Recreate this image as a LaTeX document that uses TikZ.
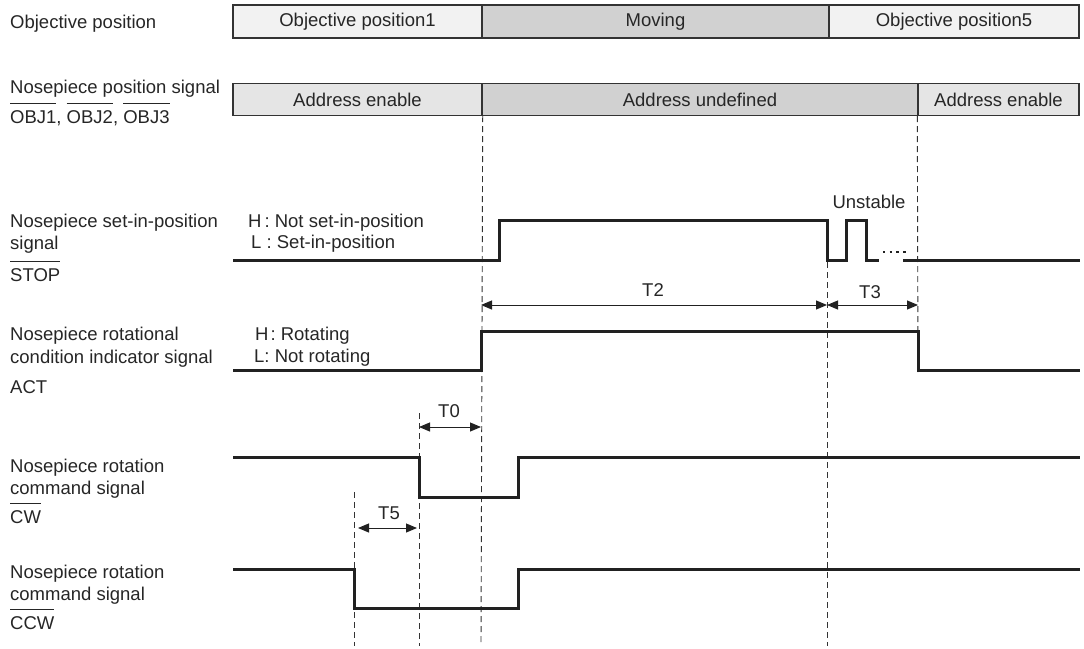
\documentclass[tikz,border=0pt]{standalone}
\usepackage{fontspec}
\setmainfont{Liberation Sans}
\usetikzlibrary{arrows.meta}
% active-low signal name: a bar set well above the capitals
\newcommand\ovl[1]{\setbox0\hbox{#1}\rlap{\rule[19.5pt]{\wd0}{1pt}}\box0}
\begin{document}
\begin{tikzpicture}[x=1pt,y=-1pt,
  txt/.style={font=\fontsize{18.5}{23}\selectfont, text=black!85, inner sep=0pt},
  lbl/.style={txt, anchor=base west},
  band/.style={txt, draw=black!80, line width=1.4pt, minimum height=33pt, inner sep=0pt},
  lightband/.style={band, fill=black!5},
  midband/.style={band, fill=black!10},
  darkband/.style={band, fill=black!18},
  sig/.style={line width=3pt, draw=black!87, line join=miter},
  guide/.style={line width=0.9pt, draw=black!80, dash pattern=on 6pt off 4pt},
  dim/.style={line width=1pt, draw=black!87, {Triangle[length=11pt,width=9pt]}-{Triangle[length=11pt,width=9pt]}}]
\useasboundingbox (0,0) rectangle (1084,648);

% ---- objective position bar
\node[lightband, minimum width=249pt] (op1) at (357.5,21.5) {Objective position1};
\node[darkband, minimum width=347pt] (mov) at (655.5,21.5) {Moving};
\node[lightband, minimum width=250pt] (op5) at (954,21.5) {Objective position5};

% ---- nosepiece position signal bar
\node[midband, minimum width=249pt, minimum height=32pt] (ae1) at (357.5,99.5) {Address enable};
\node[darkband, minimum width=436pt, minimum height=32pt] (au) at (700,99.5) {Address undefined};
\node[midband, minimum width=161pt, minimum height=32pt] (ae2) at (998.5,99.5) {Address enable};

% ---- signal names
\node[lbl] (n0) at (10,28) {Objective position};
\node[lbl] (n1a) at (10,93) {Nosepiece position signal};
\node[lbl] (n1b) at (10,123) {\ovl{OBJ1}, \ovl{OBJ2}, \ovl{OBJ3}};
\node[lbl] (n2a) at (10,227) {Nosepiece set-in-position};
\node[lbl] (n2b) at (10,249) {signal};
\node[lbl] (n2c) at (10,281) {\ovl{STOP}};
\node[lbl] (n3a) at (10,340) {Nosepiece rotational};
\node[lbl] (n3b) at (10,363) {condition indicator signal};
\node[lbl] (n3c) at (10,393) {ACT};
\node[lbl] (n4a) at (10,472) {Nosepiece rotation};
\node[lbl] (n4b) at (10,494) {command signal};
\node[lbl] (n4c) at (10,523) {\ovl{CW}};
\node[lbl] (n5a) at (10,578) {Nosepiece rotation};
\node[lbl] (n5b) at (10,600) {command signal};
\node[lbl] (n5c) at (10,629) {\ovl{CCW}};

% ---- level meanings
\node[lbl] (h2) at (248,227) {H\kern3pt: Not set-in-position};
\node[lbl] (l2) at (251,248) {L : Set-in-position};
\node[lbl] (h3) at (255,340) {H\kern2pt: Rotating};
\node[lbl] (l3) at (254,362) {L: Not rotating};
\node[txt] (unst) at (869,202) {Unstable};

% ---- timing guides
\coordinate (g5t) at (354,492);  \coordinate (g5b) at (354,646);
\coordinate (g0t) at (419,413);  \coordinate (g0b) at (419,646);
\coordinate (gmt) at (ae1.south east); \coordinate (gmb) at (481,646);
\coordinate (gut) at (827,262);  \coordinate (gub) at (827,646);
\coordinate (get) at (ae2.south west); \coordinate (geb) at (918,374);
\draw[guide] (g5t) -- (g5b);
\draw[guide] (g0t) -- (g0b);
\draw[guide] (gmt) -- (gmb);
\draw[guide] (gut) -- (gub);
\draw[guide] (get) -- (geb);

% ---- STOP
\draw[sig] (233,260) -- (499,260) -- (499,220) -- (827,220) -- (827,260)
  -- (846,260) -- (846,220) -- (866,220) -- (866,260) -- (879,260);
\draw[line width=2.2pt, draw=black!87, dash pattern=on 2.4pt off 4.3pt] (883,252) -- (906,252);
\draw[sig] (903,260) -- (1080,260);

% ---- ACT
\draw[sig] (233,370) -- (481,370) -- (481,331) -- (918,331) -- (918,370) -- (1080,370);

% ---- CW
\draw[sig] (233,457) -- (419,457) -- (419,497) -- (518,497) -- (518,457) -- (1080,457);

% ---- CCW
\draw[sig] (233,569) -- (354,569) -- (354,608) -- (518,608) -- (518,569) -- (1080,569);

% ---- time intervals
\coordinate (t2a) at (481,305); \coordinate (t2b) at (827,305); \coordinate (t3b) at (918,305);
\coordinate (t0a) at (419,427); \coordinate (t0b) at (481,427);
\coordinate (t5a) at (358,528); \coordinate (t5b) at (417,528);
\draw[dim] (t2a) -- (t2b);
\draw[dim] (t2b) -- (t3b);
\draw[dim] (t0a) -- (t0b);
\draw[dim] (t5a) -- (t5b);
\node[txt] (lt2) at (653,290) {T2};
\node[txt] (lt3) at (870,292) {T3};
\node[txt] (lt0) at (449,411) {T0};
\node[txt] (lt5) at (389,513) {T5};
\end{tikzpicture}
\end{document}
